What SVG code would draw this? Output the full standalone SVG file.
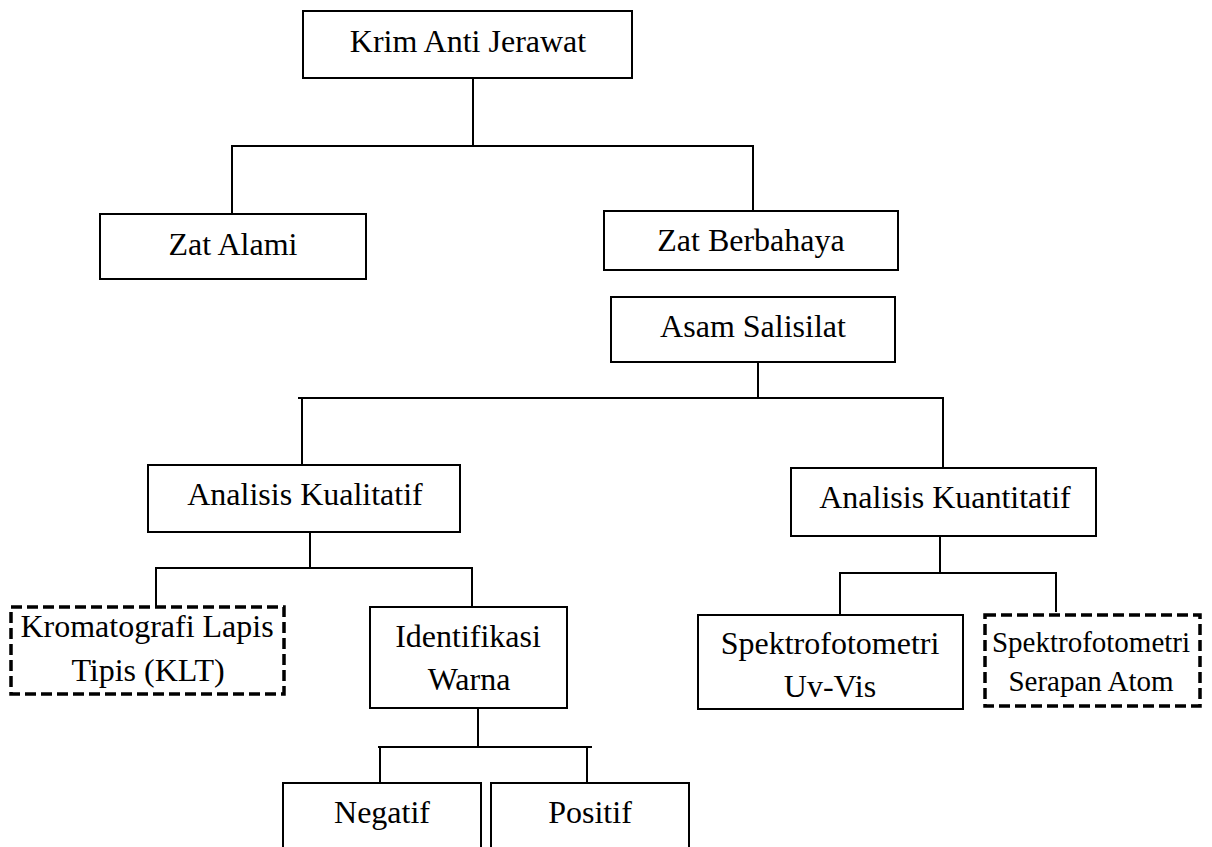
<svg xmlns="http://www.w3.org/2000/svg" width="1212" height="847" viewBox="0 0 1212 847">
<style>
.box{fill:#fff;stroke:#000;stroke-width:2}
.dash{fill:#fff;stroke:#000;stroke-width:3.5;stroke-dasharray:11 5}
.t{font-size:32px;fill:#000;text-anchor:middle}
.s{font-size:29px}
.c{fill:none;stroke:#000;stroke-width:2}
</style>
<rect width="1212" height="847" fill="#fff"/>
<g id="connectors">
<path class="c" d="M473 78V146M231 146H754M232 146V214M753 146V211"/>
<path class="c" d="M758 362V398M298 398H944M302 398V465M943 398V468"/>
<path class="c" d="M310 532V568M155 568H473M156 568V607M472 568V607"/>
<path class="c" d="M940 536V573M839 573H1057M840 573V615M1056 573V612"/>
<path class="c" d="M478 708V747M378 747H592M380 747V784M587 747V784"/>
</g>
<g font-family="'Liberation Serif', 'Times New Roman', serif">
<g id="krim"><rect class="box" x="303" y="11" width="329" height="67"/><text class="t" x="468" y="52">Krim Anti Jerawat</text></g>
<g id="zat-alami"><rect class="box" x="100" y="214" width="266" height="65"/><text class="t" x="233" y="255">Zat Alami</text></g>
<g id="zat-berbahaya"><rect class="box" x="604" y="211" width="294" height="59"/><text class="t" x="751" y="251">Zat Berbahaya</text></g>
<g id="asam-salisilat"><rect class="box" x="611" y="297" width="284" height="65"/><text class="t" x="753" y="337">Asam Salisilat</text></g>
<g id="kualitatif"><rect class="box" x="148" y="465" width="312" height="67"/><text class="t" x="305" y="505">Analisis Kualitatif</text></g>
<g id="kuantitatif"><rect class="box" x="791" y="468" width="305" height="68"/><text class="t" x="945" y="508">Analisis Kuantitatif</text></g>
<g id="klt"><rect class="dash" x="11" y="607" width="273" height="87"/><text class="t" x="147" y="637">Kromatografi Lapis</text><text class="t" x="148" y="681">Tipis (KLT)</text></g>
<g id="identifikasi"><rect class="box" x="370" y="607" width="197" height="101"/><text class="t" x="468" y="647">Identifikasi</text><text class="t" x="469" y="690">Warna</text></g>
<g id="uvvis"><rect class="box" x="698" y="615" width="265" height="94"/><text class="t" x="830" y="654">Spektrofotometri</text><text class="t" x="830" y="697">Uv-Vis</text></g>
<g id="serapan"><rect class="dash" x="985" y="615" width="215" height="91"/><text class="t s" x="1091" y="652">Spektrofotometri</text><text class="t s" x="1091" y="691">Serapan Atom</text></g>
<g id="negatif"><rect class="box" x="283" y="783" width="198" height="80"/><text class="t" x="382" y="823">Negatif</text></g>
<g id="positif"><rect class="box" x="491" y="783" width="198" height="80"/><text class="t" x="590" y="823">Positif</text></g>
</g>
</svg>
